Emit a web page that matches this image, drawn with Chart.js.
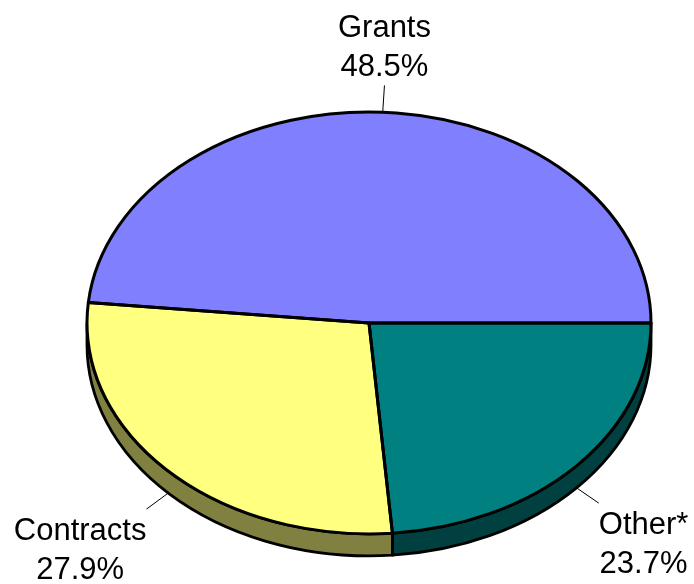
<!DOCTYPE html>
<html>
<head>
<meta charset="utf-8">
<script src="https://cdn.jsdelivr.net/npm/chart.js@4.4.0/dist/chart.umd.min.js"></script>
<style>
  html, body { margin: 0; padding: 0; background: #fff; }
  #wrap { width: 694px; height: 584px; }
</style>
</head>
<body>
<div id="wrap"><canvas id="myChart"></canvas></div>
<script>
// slices go clockwise starting at 3 o'clock
const categories = ["Other*", "Contracts", "Grants"];
const shares = [23.7, 27.9, 48.5];
const topColors = ["#008080", "#FFFF80", "#8080FF"];
const sideColors = ["#004040", "#808040", "#404080"];

const tilt = 0.748; // vertical squash of the pie
const depth = 22;   // pie thickness in px
const labelFont = "31px 'Liberation Sans', Arial, sans-serif";

// stroke current path with an even line width, ignoring the squash
function strokeFlat(ctx, w) {
  ctx.save();
  ctx.scale(1, 1 / tilt);
  ctx.lineWidth = w;
  ctx.strokeStyle = "#000";
  ctx.lineJoin = "round";
  ctx.stroke();
  ctx.restore();
}

const pie3d = {
  id: "pie3d",
  beforeDatasetsDraw(chart) {
    const ctx = chart.ctx;
    const arcs = chart.getDatasetMeta(0).data;
    const cx = arcs[0].x, cy = arcs[0].y;
    ctx.save();
    ctx.translate(cx, cy);
    ctx.scale(1, tilt);
    ctx.translate(-cx, -cy);
    const d = depth / tilt;
    // side wall, only the front half is visible
    arcs.forEach((arc, i) => {
      const a = Math.max(arc.startAngle, 0);
      const b = Math.min(arc.endAngle, Math.PI);
      if (b <= a) return;
      const r = arc.outerRadius;
      ctx.beginPath();
      ctx.arc(cx, cy, r, a, b);
      ctx.lineTo(cx + r * Math.cos(b), cy + d + r * Math.sin(b));
      ctx.arc(cx, cy + d, r, b, a, true);
      ctx.closePath();
      ctx.fillStyle = sideColors[i];
      ctx.fill();
      strokeFlat(ctx, 2.8);
    });
  },
  afterDatasetsDraw(chart) {
    const ctx = chart.ctx;
    const arcs = chart.getDatasetMeta(0).data;
    const cx = arcs[0].x, cy = arcs[0].y;
    arcs.forEach(arc => {
      ctx.beginPath();
      ctx.moveTo(cx, cy);
      ctx.arc(cx, cy, arc.outerRadius, arc.startAngle, arc.endAngle);
      ctx.closePath();
      strokeFlat(ctx, 3);
    });
    ctx.restore();

    // labels with leader lines
    ctx.save();
    ctx.font = labelFont;
    ctx.fillStyle = "#000";
    ctx.textAlign = "center";
    ctx.textBaseline = "alphabetic";
    arcs.forEach((arc, i) => {
      const mid = (arc.startAngle + arc.endAngle) / 2;
      const r = arc.outerRadius;
      let px = cx + r * Math.cos(mid);
      let py = cy + r * Math.sin(mid) * tilt;
      if (Math.sin(mid) > 0) py += depth;
      let nx = Math.cos(mid), ny = Math.sin(mid) * tilt;
      const len = Math.hypot(nx, ny);
      nx /= len; ny /= len;
      const ex = px + 27 * nx, ey = py + 27 * ny;
      ctx.beginPath();
      ctx.moveTo(px, py);
      ctx.lineTo(ex, ey);
      ctx.lineWidth = 1;
      ctx.strokeStyle = "#000";
      ctx.stroke();

      const lines = [categories[i], shares[i].toFixed(1) + "%"];
      const w = Math.max(...lines.map(t => ctx.measureText(t).width));
      let tx = ex;
      if (nx < -0.3) tx = ex - w / 2;
      else if (nx > 0.3) tx = ex + w / 2;
      const base = ny < 0 ? ey - 48 : ey + 31;
      lines.forEach((t, k) => ctx.fillText(t, tx, base + 39 * k));
    });
    ctx.restore();
  }
};

new Chart(document.getElementById("myChart"), {
  type: "pie",
  data: {
    labels: categories,
    datasets: [{
      data: shares,
      backgroundColor: topColors,
      borderWidth: 0,
      radius: 282,
      clip: false
    }]
  },
  options: {
    responsive: true,
    maintainAspectRatio: false,
    animation: false,
    events: [],
    rotation: 90,
    layout: { padding: { left: 44, right: 0, top: 62, bottom: 0 } },
    plugins: {
      legend: { display: false },
      tooltip: { enabled: false }
    }
  },
  plugins: [pie3d]
});
</script>
</body>
</html>
